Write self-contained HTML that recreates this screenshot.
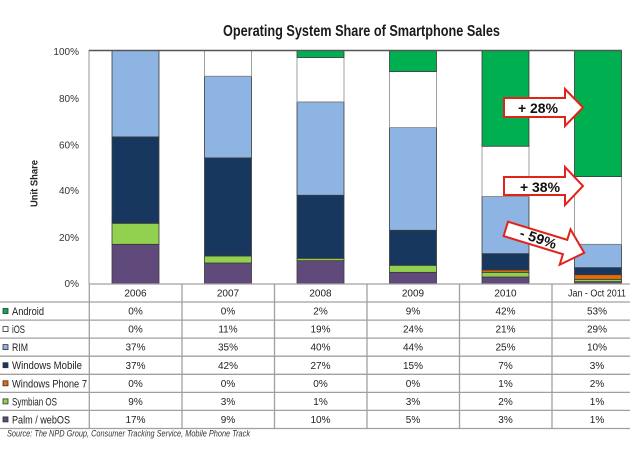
<!DOCTYPE html>
<html>
<head>
<meta charset="utf-8">
<style>
html,body{margin:0;padding:0;background:#fff;overflow:hidden;}
svg{display:block;}
text{font-family:"Liberation Sans",Arial,sans-serif;}
</style>
</head>
<body>
<svg width="630" height="450" viewBox="0 0 630 450" xmlns="http://www.w3.org/2000/svg">
<rect width="630" height="450" fill="#fff"/>

<!-- Title -->
<text x="223" y="36" font-size="15.5" font-weight="bold" fill="#1a1a1a" textLength="277" lengthAdjust="spacingAndGlyphs">Operating System Share of Smartphone Sales</text>

<!-- Y axis title -->
<text transform="translate(37.5,183.5) rotate(-90)" text-anchor="middle" font-size="10" font-weight="bold" fill="#222" textLength="47" lengthAdjust="spacingAndGlyphs">Unit Share</text>

<!-- Y tick labels -->
<g font-size="10" fill="#333" text-anchor="end">
<text x="79" y="55">100%</text>
<text x="79" y="101.8">80%</text>
<text x="79" y="148.4">60%</text>
<text x="79" y="194.2">40%</text>
<text x="79" y="240.8">20%</text>
<text x="79" y="287">0%</text>
</g>

<!-- Bars -->
<g stroke="#3a3a3a" stroke-width="0.8">
<!-- 2006 -->
<rect x="112" y="244.31" width="47" height="39.69" fill="#604a7b"/>
<rect x="112" y="223.29" width="47" height="21.02" fill="#92d050"/>
<rect x="112" y="136.9" width="47" height="86.39" fill="#17375e"/>
<rect x="112" y="50.5" width="47" height="86.4" fill="#8eb4e3"/>
<!-- 2007 -->
<rect x="204.5" y="262.99" width="47" height="21.01" fill="#604a7b"/>
<rect x="204.5" y="255.98" width="47" height="7.01" fill="#92d050"/>
<rect x="204.5" y="157.91" width="47" height="98.07" fill="#17375e"/>
<rect x="204.5" y="76.19" width="47" height="81.72" fill="#8eb4e3"/>
<rect x="204.5" y="50.5" width="47" height="25.69" fill="#ffffff" stroke="#888"/>
<!-- 2008 -->
<rect x="297" y="260.65" width="47" height="23.35" fill="#604a7b"/>
<rect x="297" y="258.32" width="47" height="2.33" fill="#92d050"/>
<rect x="297" y="195.27" width="47" height="63.05" fill="#17375e"/>
<rect x="297" y="101.87" width="47" height="93.4" fill="#8eb4e3"/>
<rect x="297" y="57.51" width="47" height="44.36" fill="#ffffff" stroke="#888"/>
<rect x="297" y="50.5" width="47" height="7.01" fill="#00b050"/>
<!-- 2009 -->
<rect x="389.5" y="272.33" width="47" height="11.67" fill="#604a7b"/>
<rect x="389.5" y="265.32" width="47" height="7.01" fill="#92d050"/>
<rect x="389.5" y="230.3" width="47" height="35.02" fill="#17375e"/>
<rect x="389.5" y="127.56" width="47" height="102.74" fill="#8eb4e3"/>
<rect x="389.5" y="71.52" width="47" height="56.04" fill="#ffffff" stroke="#888"/>
<rect x="389.5" y="50.5" width="47" height="21.02" fill="#00b050"/>
<!-- 2010 -->
<rect x="482" y="277" width="47" height="7" fill="#604a7b"/>
<rect x="482" y="272.33" width="47" height="4.67" fill="#92d050"/>
<rect x="482" y="269.99" width="47" height="2.34" fill="#e46c0a"/>
<rect x="482" y="253.65" width="47" height="16.34" fill="#17375e"/>
<rect x="482" y="196.5" width="47" height="57.15" fill="#8eb4e3"/>
<rect x="482" y="146.24" width="47" height="50.26" fill="#ffffff" stroke="#888"/>
<rect x="482" y="50.5" width="47" height="95.74" fill="#00b050"/>
<!-- 2011 -->
<rect x="574.5" y="281.67" width="47" height="2.33" fill="#604a7b"/>
<rect x="574.5" y="279.33" width="47" height="2.34" fill="#92d050"/>
<rect x="574.5" y="274.66" width="47" height="4.67" fill="#e46c0a"/>
<rect x="574.5" y="267.66" width="47" height="7" fill="#17375e"/>
<rect x="574.5" y="244.31" width="47" height="23.35" fill="#8eb4e3"/>
<rect x="574.5" y="176.59" width="47" height="67.72" fill="#ffffff" stroke="#888"/>
<rect x="574.5" y="50.5" width="47" height="126.09" fill="#00b050"/>
</g>

<!-- Plot frame -->
<line x1="89" y1="50" x2="89" y2="284" stroke="#a6a6a6" stroke-width="1.2"/>
<line x1="89" y1="50.5" x2="622" y2="50.5" stroke="#555" stroke-width="1.6"/>

<!-- Arrows -->
<g stroke="#e2231a" stroke-width="2" fill="#fff" stroke-linejoin="miter">
<path transform="translate(504,107.5)" d="M0,-9.5 L61,-9.5 L61,-18.5 L79,0 L61,18.5 L61,9.5 L0,9.5 Z"/>
<path transform="translate(504,186)" d="M0,-9 L61,-9 L61,-19 L79,0 L61,19 L61,9 L0,9 Z"/>
<path transform="translate(505.8,228.9) rotate(17)" d="M0,-7.5 L62,-7.5 L62,-18.5 L82,0 L62,18.5 L62,7.5 L0,7.5 Z"/>
</g>
<g font-size="14" font-weight="bold" fill="#111" text-anchor="middle">
<text x="538" y="113" textLength="40" lengthAdjust="spacingAndGlyphs">+ 28%</text>
<text x="540" y="192" textLength="40" lengthAdjust="spacingAndGlyphs">+ 38%</text>
<text transform="translate(538.3,238.3) rotate(19)" x="0" y="5" textLength="38" lengthAdjust="spacingAndGlyphs">- 59%</text>
</g>

<!-- Table lines -->
<g stroke="#a0a0a0" stroke-width="1.3">
<line x1="89" y1="284" x2="630" y2="284"/>
<line x1="0" y1="302" x2="630" y2="302"/>
<line x1="0" y1="320.1" x2="630" y2="320.1"/>
<line x1="0" y1="338.1" x2="630" y2="338.1"/>
<line x1="0" y1="356.2" x2="630" y2="356.2"/>
<line x1="0" y1="374.3" x2="630" y2="374.3"/>
<line x1="0" y1="392.4" x2="630" y2="392.4"/>
<line x1="0" y1="410.4" x2="630" y2="410.4"/>
<line x1="0" y1="428.5" x2="630" y2="428.5"/>
<line x1="89.3" y1="284" x2="89.3" y2="428.5"/>
<line x1="182" y1="284" x2="182" y2="428.5"/>
<line x1="274.5" y1="284" x2="274.5" y2="428.5"/>
<line x1="367" y1="284" x2="367" y2="428.5"/>
<line x1="459.5" y1="284" x2="459.5" y2="428.5"/>
<line x1="552" y1="284" x2="552" y2="428.5"/>
</g>

<!-- Header row -->
<g font-size="10" fill="#222" text-anchor="middle">
<text x="135.5" y="296.5">2006</text>
<text x="228" y="296.5">2007</text>
<text x="320.5" y="296.5">2008</text>
<text x="413" y="296.5">2009</text>
<text x="505.5" y="296.5">2010</text>
<text x="597" y="296.5" textLength="58" lengthAdjust="spacingAndGlyphs">Jan - Oct 2011</text>
</g>

<!-- Legend squares -->
<g stroke="#333" stroke-width="0.8">
<rect x="3" y="308.5" width="5" height="5" fill="#00b050"/>
<rect x="3" y="326.6" width="5" height="5" fill="#ffffff"/>
<rect x="3" y="344.6" width="5" height="5" fill="#8eb4e3"/>
<rect x="3" y="362.7" width="5" height="5" fill="#17375e"/>
<rect x="3" y="380.8" width="5" height="5" fill="#e46c0a"/>
<rect x="3" y="398.9" width="5" height="5" fill="#92d050"/>
<rect x="3" y="416.9" width="5" height="5" fill="#604a7b"/>
</g>

<!-- Row labels -->
<g font-size="11" fill="#222">
<text x="12" y="315" textLength="32" lengthAdjust="spacingAndGlyphs">Android</text>
<text x="12" y="333.1" textLength="13" lengthAdjust="spacingAndGlyphs">iOS</text>
<text x="12" y="351.1" textLength="16" lengthAdjust="spacingAndGlyphs">RIM</text>
<text x="12" y="369.2" textLength="70" lengthAdjust="spacingAndGlyphs">Windows Mobile</text>
<text x="12" y="387.3" textLength="75" lengthAdjust="spacingAndGlyphs">Windows Phone 7</text>
<text x="12" y="405.4" textLength="45" lengthAdjust="spacingAndGlyphs">Symbian OS</text>
<text x="12" y="423.4" textLength="58" lengthAdjust="spacingAndGlyphs">Palm / webOS</text>
</g>

<!-- Data values -->
<g font-size="10" fill="#222" text-anchor="middle">
<!-- Android -->
<text x="135.5" y="314.6">0%</text><text x="228" y="314.6">0%</text><text x="320.5" y="314.6">2%</text><text x="413" y="314.6">9%</text><text x="505.5" y="314.6">42%</text><text x="597" y="314.6">53%</text>
<!-- iOS -->
<text x="135.5" y="332.7">0%</text><text x="228" y="332.7">11%</text><text x="320.5" y="332.7">19%</text><text x="413" y="332.7">24%</text><text x="505.5" y="332.7">21%</text><text x="597" y="332.7">29%</text>
<!-- RIM -->
<text x="135.5" y="350.7">37%</text><text x="228" y="350.7">35%</text><text x="320.5" y="350.7">40%</text><text x="413" y="350.7">44%</text><text x="505.5" y="350.7">25%</text><text x="597" y="350.7">10%</text>
<!-- Windows Mobile -->
<text x="135.5" y="368.8">37%</text><text x="228" y="368.8">42%</text><text x="320.5" y="368.8">27%</text><text x="413" y="368.8">15%</text><text x="505.5" y="368.8">7%</text><text x="597" y="368.8">3%</text>
<!-- Windows Phone 7 -->
<text x="135.5" y="386.9">0%</text><text x="228" y="386.9">0%</text><text x="320.5" y="386.9">0%</text><text x="413" y="386.9">0%</text><text x="505.5" y="386.9">1%</text><text x="597" y="386.9">2%</text>
<!-- Symbian -->
<text x="135.5" y="405">9%</text><text x="228" y="405">3%</text><text x="320.5" y="405">1%</text><text x="413" y="405">3%</text><text x="505.5" y="405">2%</text><text x="597" y="405">1%</text>
<!-- Palm -->
<text x="135.5" y="423">17%</text><text x="228" y="423">9%</text><text x="320.5" y="423">10%</text><text x="413" y="423">5%</text><text x="505.5" y="423">3%</text><text x="597" y="423">1%</text>
</g>

<!-- Source -->
<text x="7" y="436.5" font-size="9" font-style="italic" fill="#333" textLength="243" lengthAdjust="spacingAndGlyphs">Source: The NPD Group, Consumer Tracking Service, Mobile Phone Track</text>
</svg>
</body>
</html>
